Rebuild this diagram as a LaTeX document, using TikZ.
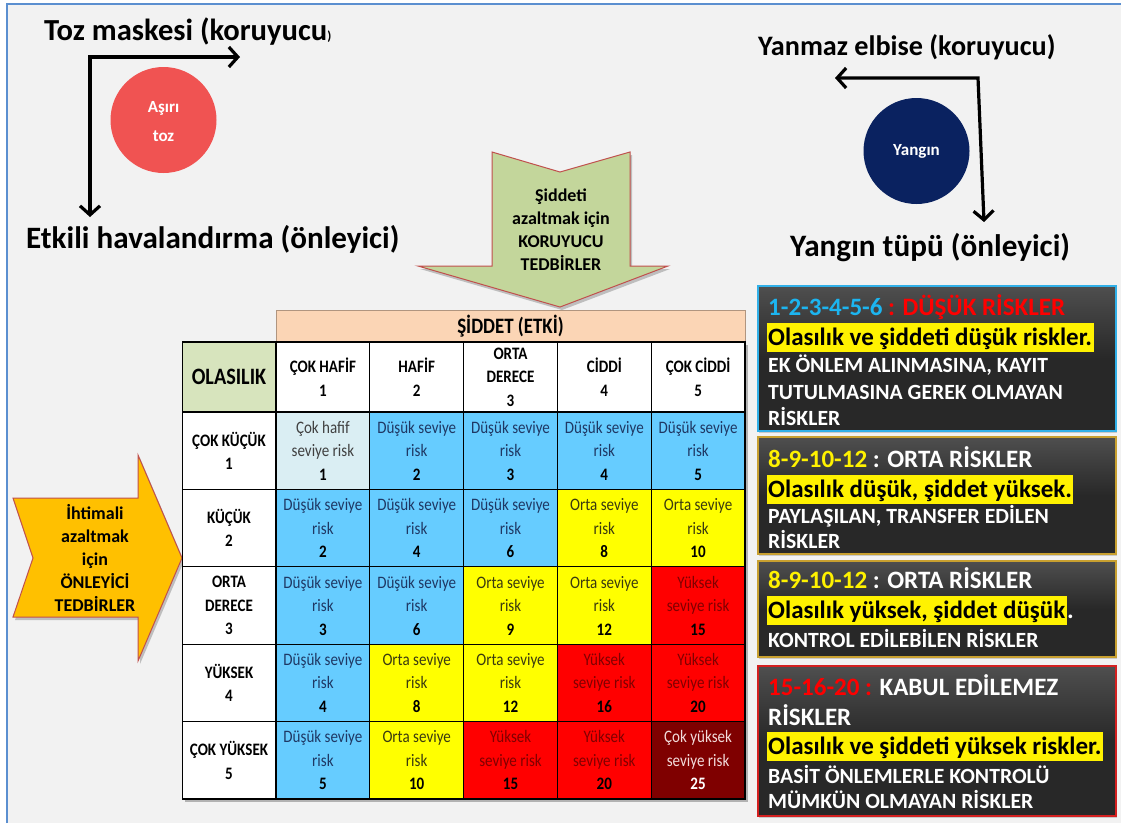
\documentclass[tikz,border=0pt]{standalone}
\usepackage{fontspec}
\setmainfont{Carlito}
\newfontfamily\condf[FakeStretch=0.86]{Carlito}
\usetikzlibrary{arrows.meta,shadows}
\definecolor{bgc}{HTML}{F2F2F2}
\definecolor{framec}{HTML}{5B8FD0}
\definecolor{tozred}{HTML}{F05352}
\definecolor{navy}{HTML}{0A2260}
\definecolor{greenarr}{HTML}{C3D69B}
\definecolor{arrborder}{HTML}{C0504D}
\definecolor{orangearr}{HTML}{FFC000}
\definecolor{peach}{HTML}{FBD5B5}
\definecolor{olagreen}{HTML}{D7E4BD}
\definecolor{lblue}{HTML}{DAEEF3}
\definecolor{cblue}{HTML}{66CCFF}
\definecolor{cyel}{HTML}{FFFF00}
\definecolor{cred}{HTML}{FF0000}
\definecolor{cdred}{HTML}{7F0000}
\definecolor{tblue}{HTML}{1F3864}
\definecolor{tyel}{HTML}{3A3A10}
\definecolor{tred}{HTML}{800000}
\definecolor{tdred}{HTML}{F2DCDB}
\definecolor{boxfill}{HTML}{282828}
\definecolor{bblue}{HTML}{31B0E8}
\definecolor{bgold}{HTML}{C8A030}
\definecolor{bred}{HTML}{D42020}
\definecolor{numcyan}{HTML}{1CB5F0}
\newcommand\numb[1]{{\bfseries\color{black}#1}}
\newcommand\numw[1]{{\bfseries\color{white}#1}}
\newcommand\dus[1]{Düşük seviye\\risk\\\numb{#1}}
\newcommand\ort[1]{Orta seviye\\risk\\\numb{#1}}
\newcommand\yuk[1]{Yüksek\\seviye risk\\\numb{#1}}
\tikzset{
  barbtip/.tip={Straight Barb[length=9pt,width=20pt]},
  title/.style={anchor=base west, inner sep=0pt, font=\bfseries\fontsize{30}{36}\selectfont},
  elbow/.style={line width=3.2pt, line join=miter, barbtip-barbtip},
  blob/.style={circle, inner sep=0pt, minimum size=106pt, text=white, align=center},
  arrshape/.style={draw=arrborder, line width=1pt, drop shadow={opacity=0.45, shadow xshift=2pt, shadow yshift=-3pt}},
  arrtext/.style={align=center, inner sep=0pt, font=\bfseries\fontsize{18}{23}\selectfont},
  cellbox/.style={draw=black, line width=1.2pt, minimum width=93.8pt, minimum height=77.4pt, inner sep=0pt, align=center, font=\condf\fontsize{17.5}{23.5}\selectfont},
  headbox/.style={cellbox, fill=white, font=\condf\bfseries\fontsize{17.5}{23.5}\selectfont},
  rbox/.style={rectangle, line width=1.8pt, top color=boxfill!82!white, bottom color=boxfill, middle color=boxfill, inner sep=0pt, anchor=north west, minimum width=358pt, drop shadow={opacity=0.35, shadow xshift=1.5pt, shadow yshift=-2pt}},
  rhead/.style={anchor=base west, inner sep=0pt, text=white, font=\bfseries\fontsize{25}{28}\selectfont},
  hl/.style={anchor=base west, fill=yellow, text=black, inner xsep=1.5pt, inner ysep=0pt, text height=22.5pt, text depth=7pt, font=\bfseries\fontsize{25}{28}\selectfont},
  wl/.style={anchor=base west, inner sep=0pt, text=white, font=\bfseries\fontsize{21.7}{24}\selectfont},
}
\begin{document}
\begin{tikzpicture}[x=1pt,y=-1pt]
\useasboundingbox (0,0) rectangle (1121,823);
\fill[white] (0,0) rectangle (1121,823);
\fill[bgc] (7,4) rectangle (1121,823);
\draw[framec, line width=2pt] (7,823) -- (7,4) -- (1121,4);

% ---- top left ----
\node[title, font=\bfseries\fontsize{30.6}{36}\selectfont] (tozmask) at (44,40) {Toz maskesi (koruyucu{\fontsize{13}{13}\selectfont)}};
\node[title, font=\bfseries\fontsize{31.1}{36}\selectfont] (etkili) at (26,248) {Etkili havalandırma (önleyici)};
\coordinate (tlr) at (240,57);
\coordinate (tlc) at (90,57);
\coordinate (tld) at (90,217);
\draw[elbow] (tlr) -- (tlc) -- (tld);
\node[blob, fill=tozred] (asiri) at (163.5,120) {};
\node[text=white, inner sep=0pt, font=\bfseries\fontsize{17}{20}\selectfont] (asiri1) at (163.5,108) {Aşırı};
\node[text=white, inner sep=0pt, font=\bfseries\fontsize{17}{20}\selectfont] (asiri2) at (163.5,136) {toz};

% ---- top right ----
\node[title, font=\bfseries\fontsize{28.2}{36}\selectfont] (yanmaz) at (758,55) {Yanmaz elbise (koruyucu)};
\node[title, font=\bfseries\fontsize{31.2}{36}\selectfont] (tupu) at (790,256) {Yangın tüpü (önleyici)};
\coordinate (trl) at (835,78);
\coordinate (trc) at (978,78);
\coordinate (trd) at (984,222);
\draw[elbow] (trl) -- (trc) -- (trd);
\node[blob, fill=navy, font=\bfseries\fontsize{17}{20}\selectfont] (yangin) at (916.5,151) {Yangın};

% ---- green arrow ----
\fill[greenarr, arrshape] (492,152) -- (560,172) -- (630,152) -- (630,266) -- (668,266) -- (560,307) -- (418,266) -- (492,266) -- cycle;
\node[arrtext] (koru) at (561,230) {Şiddeti\\azaltmak için\\KORUYUCU\\TEDBİRLER};

% ---- orange arrow ----
\fill[orangearr, arrshape] (13,498) -- (138,498) -- (138,455) -- (182,558) -- (138,661) -- (138,617) -- (13,617) -- (33,558) -- cycle;
\node[arrtext] (onley) at (95,558) {İhtimali\\azaltmak\\için\\ÖNLEYİCİ\\TEDBİRLER};

% ---- table ----
\fill[black!30] (185,345) rectangle (748,802);
\node[draw=peach!70!black, line width=0.6pt, fill=peach, minimum width=469pt, minimum height=32pt, inner sep=0pt, font=\condf\bfseries\fontsize{22}{24}\selectfont] (siddet) at (510.5,326) {ŞİDDET (ETKİ)};
\node[headbox, minimum height=70pt, fill=olagreen, font=\condf\bfseries\fontsize{23.5}{24}\selectfont] (olas) at (229,377) {OLASILIK};
\node[headbox, minimum height=70pt] (h1) at (322.9,377) {ÇOK HAFİF\\1};
\node[headbox, minimum height=70pt] (h2) at (416.7,377) {HAFİF\\2};
\node[headbox, minimum height=70pt] (h3) at (510.5,377) {ORTA\\DERECE\\3};
\node[headbox, minimum height=70pt] (h4) at (604.3,377) {CİDDİ\\4};
\node[headbox, minimum height=70pt] (h5) at (698.1,377) {ÇOK CİDDİ\\5};

\node[headbox] (r1) at (229,450.7) {ÇOK KÜÇÜK\\1};
\node[headbox] (r2) at (229,528.1) {KÜÇÜK\\2};
\node[headbox] (r3) at (229,605.5) {ORTA\\DERECE\\3};
\node[headbox] (r4) at (229,682.9) {YÜKSEK\\4};
\node[headbox] (r5) at (229,760.3) {ÇOK YÜKSEK\\5};

% row 1
\node[cellbox, fill=lblue, text=black!75] (c11) at (322.9,450.7) {Çok hafif\\seviye risk\\\numb{1}};
\node[cellbox, fill=cblue, text=tblue] (c12) at (416.7,450.7) {\dus{2}};
\node[cellbox, fill=cblue, text=tblue] (c13) at (510.5,450.7) {\dus{3}};
\node[cellbox, fill=cblue, text=tblue] (c14) at (604.3,450.7) {\dus{4}};
\node[cellbox, fill=cblue, text=tblue] (c15) at (698.1,450.7) {\dus{5}};
% row 2
\node[cellbox, fill=cblue, text=tblue] (c21) at (322.9,528.1) {\dus{2}};
\node[cellbox, fill=cblue, text=tblue] (c22) at (416.7,528.1) {\dus{4}};
\node[cellbox, fill=cblue, text=tblue] (c23) at (510.5,528.1) {\dus{6}};
\node[cellbox, fill=cyel, text=tyel] (c24) at (604.3,528.1) {\ort{8}};
\node[cellbox, fill=cyel, text=tyel] (c25) at (698.1,528.1) {\ort{10}};
% row 3
\node[cellbox, fill=cblue, text=tblue] (c31) at (322.9,605.5) {\dus{3}};
\node[cellbox, fill=cblue, text=tblue] (c32) at (416.7,605.5) {\dus{6}};
\node[cellbox, fill=cyel, text=tyel] (c33) at (510.5,605.5) {\ort{9}};
\node[cellbox, fill=cyel, text=tyel] (c34) at (604.3,605.5) {\ort{12}};
\node[cellbox, fill=cred, text=tred] (c35) at (698.1,605.5) {\yuk{15}};
% row 4
\node[cellbox, fill=cblue, text=tblue] (c41) at (322.9,682.9) {\dus{4}};
\node[cellbox, fill=cyel, text=tyel] (c42) at (416.7,682.9) {\ort{8}};
\node[cellbox, fill=cyel, text=tyel] (c43) at (510.5,682.9) {\ort{12}};
\node[cellbox, fill=cred, text=tred] (c44) at (604.3,682.9) {\yuk{16}};
\node[cellbox, fill=cred, text=tred] (c45) at (698.1,682.9) {\yuk{20}};
% row 5
\node[cellbox, fill=cblue, text=tblue] (c51) at (322.9,760.3) {\dus{5}};
\node[cellbox, fill=cyel, text=tyel] (c52) at (416.7,760.3) {\ort{10}};
\node[cellbox, fill=cred, text=tred] (c53) at (510.5,760.3) {\yuk{15}};
\node[cellbox, fill=cred, text=tred] (c54) at (604.3,760.3) {\yuk{20}};
\node[cellbox, fill=cdred, text=tdred] (c55) at (698.1,760.3) {Çok yüksek\\seviye risk\\\numw{25}};

% ---- right boxes ----
\node[rbox, draw=bblue, minimum height=145pt] (box1) at (757,285) {};
\node[rhead] (b1a) at (768,315) {\textcolor{numcyan}{1-2-3-4-5-6} \textcolor{red}{: DÜŞÜK RİSKLER}};
\node[hl] (b1b) at (766.5,345) {Olasılık ve şiddeti düşük riskler.};
\node[wl] (b1c) at (768,372) {EK ÖNLEM ALINMASINA, KAYIT};
\node[wl] (b1d) at (768,399) {TUTULMASINA GEREK OLMAYAN};
\node[wl] (b1e) at (768,425) {RİSKLER};

\node[rbox, draw=bgold, minimum height=117pt] (box2) at (757,436) {};
\node[rhead] (b2a) at (768,467) {\textcolor{yellow}{8-9-10-12} : ORTA RİSKLER};
\node[hl] (b2b) at (766.5,497) {Olasılık düşük, şiddet yüksek.};
\node[wl] (b2c) at (768,523) {PAYLAŞILAN, TRANSFER EDİLEN};
\node[wl] (b2d) at (768,548) {RİSKLER};

\node[rbox, draw=bgold, minimum height=96pt] (box3) at (757,560) {};
\node[rhead] (b3a) at (768,588) {\textcolor{yellow}{8-9-10-12} : ORTA RİSKLER};
\node[hl] (b3b) at (766.5,618) {Olasılık yüksek, şiddet düşük};
\node[anchor=base west, inner sep=0pt, text=white, font=\bfseries\fontsize{25}{28}\selectfont] (b3p) at (b3b.base east) {.};
\node[wl] (b3c) at (768,647) {KONTROL EDİLEBİLEN RİSKLER};

\node[rbox, draw=bred, minimum height=150pt] (box4) at (757,665) {};
\node[rhead] (b4a) at (768,695) {\textcolor{red}{15-16-20 :} KABUL EDİLEMEZ};
\node[rhead] (b4b) at (768,725) {RİSKLER};
\node[hl] (b4c) at (766.5,754) {Olasılık ve şiddeti yüksek riskler.};
\node[wl] (b4d) at (768,783) {BASİT ÖNLEMLERLE KONTROLÜ};
\node[wl] (b4e) at (768,808) {MÜMKÜN OLMAYAN RİSKLER};
\end{tikzpicture}
\end{document}
